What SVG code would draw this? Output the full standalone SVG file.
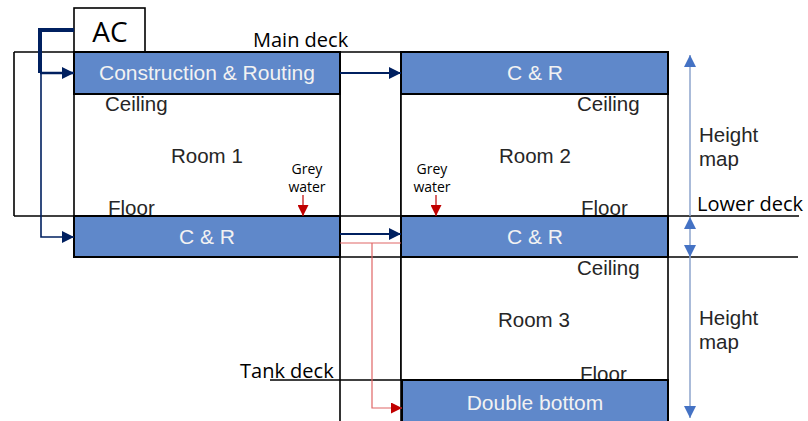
<svg xmlns="http://www.w3.org/2000/svg" width="808" height="421" viewBox="0 0 808 421">
<defs>
<style>
.ln{stroke:#000;stroke-width:1.6;fill:none}
.box{fill:#5F88CA;stroke:#000;stroke-width:2}
.room{fill:#fff;stroke:#000;stroke-width:1.6}
.wt{font-family:"Liberation Sans",Arial,sans-serif;font-size:21px;fill:#F2F2F2;text-anchor:middle}
.gt{font-family:"Liberation Sans",Arial,sans-serif;font-size:20.5px;fill:#262626}
.bt{font-family:"Open Sans","Noto Sans",sans-serif;font-size:20px;fill:#000}
.sm{font-family:"Open Sans","Noto Sans",sans-serif;font-size:14px;fill:#000;text-anchor:middle}
.nav{stroke:#002060;fill:none}
.red{stroke:#E06666;stroke-width:1.2;fill:none}
.hm{stroke:#8EA4CC;stroke-width:1.5;fill:none}
</style>
<marker id="an" viewBox="0 0 10 10" refX="10" refY="5" markerWidth="12" markerHeight="12" markerUnits="userSpaceOnUse" orient="auto"><path d="M0,0L10,5L0,10z" fill="#002060"/></marker>
<marker id="ar" viewBox="0 0 10 10" refX="10" refY="5" markerWidth="11" markerHeight="11" markerUnits="userSpaceOnUse" orient="auto"><path d="M0,0L10,5L0,10z" fill="#C00000"/></marker>
<marker id="ab" viewBox="0 0 10 10" refX="10" refY="5" markerWidth="12" markerHeight="12" markerUnits="userSpaceOnUse" orient="auto-start-reverse"><path d="M0,0L10,5L0,10z" fill="#4472C4"/></marker>
</defs>

<g id="structure">
<line class="ln" x1="14" y1="52" x2="668" y2="52"/>
<line class="ln" x1="14" y1="52" x2="14" y2="216"/>
<line class="ln" x1="14" y1="216" x2="799" y2="216"/>
<line class="ln" x1="74" y1="257" x2="798" y2="257"/>
<line class="ln" x1="340" y1="52" x2="340" y2="421"/>
<line class="ln" x1="401" y1="52" x2="401" y2="421"/>
<line class="ln" x1="270" y1="380" x2="401" y2="380"/>
</g>

<g id="ac">
<rect x="74" y="8" width="71" height="44" fill="#fff" stroke="#000" stroke-width="1.6"/>
<text x="110" y="42" font-family="Open Sans,Noto Sans,sans-serif" font-size="28" text-anchor="middle" fill="#000">AC</text>
</g>

<g id="room1">
<rect class="room" x="74" y="94" width="266" height="122"/>
<text class="gt" x="105" y="111">Ceiling</text>
<text class="gt" x="171" y="163">Room 1</text>
<text class="gt" x="108" y="215">Floor</text>
<text class="sm" x="307" y="174">Grey</text>
<text class="sm" x="307" y="192">water</text>
</g>

<g id="room2">
<rect class="room" x="401" y="94" width="267" height="122"/>
<text class="gt" x="577" y="111">Ceiling</text>
<text class="gt" x="499" y="163">Room 2</text>
<text class="gt" x="581" y="215">Floor</text>
<text class="sm" x="432" y="174">Grey</text>
<text class="sm" x="432" y="192">water</text>
</g>

<g id="room3">
<rect class="room" x="401" y="257" width="267" height="123"/>
<text class="gt" x="577" y="275">Ceiling</text>
<text class="gt" x="498" y="327">Room 3</text>
<text class="gt" x="580" y="381">Floor</text>
</g>

<g id="cr-main">
<rect class="box" x="74" y="52" width="266" height="42"/>
<text class="wt" x="207" y="80">Construction &amp; Routing</text>
</g>
<g id="cr-top-right">
<rect class="box" x="401" y="52" width="267" height="42"/>
<text class="wt" x="535" y="80">C &amp; R</text>
</g>
<g id="cr-lower-left">
<rect class="box" x="74" y="216" width="266" height="41"/>
<text class="wt" x="207" y="244">C &amp; R</text>
</g>
<g id="cr-lower-right">
<rect class="box" x="401" y="216" width="267" height="41"/>
<text class="wt" x="535" y="244">C &amp; R</text>
</g>
<g id="double-bottom">
<rect class="box" x="402" y="380" width="266" height="45"/>
<text class="wt" x="535" y="410">Double bottom</text>
</g>

<g id="labels">
<text class="bt" x="253" y="47">Main deck</text>
<text class="bt" x="697" y="211">Lower deck</text>
<text class="bt" x="240" y="378">Tank deck</text>
<text class="gt" x="699" y="142" fill="#404040" font-size="20">Height</text>
<text class="gt" x="699" y="166" fill="#404040" font-size="20">map</text>
<text class="gt" x="699" y="325" fill="#404040" font-size="20">Height</text>
<text class="gt" x="699" y="349" fill="#404040" font-size="20">map</text>
</g>

<g id="connectors">
<path class="nav" stroke-width="4" d="M74,30H40V73"/>
<path class="nav" stroke-width="2.5" d="M40,73H74" marker-end="url(#an)"/>
<path class="nav" stroke-width="1.6" d="M41,73V237H74" marker-end="url(#an)"/>
<path class="nav" stroke-width="2" d="M340,73H401" marker-end="url(#an)"/>
<path class="nav" stroke-width="2" d="M340,234H401" marker-end="url(#an)"/>
<path class="red" d="M340,243H401"/>
<path class="red" d="M372,243V408H402" marker-end="url(#ar)"/>
<path stroke="#C00000" stroke-width="1.2" d="M303,195V216" marker-end="url(#ar)"/>
<path stroke="#C00000" stroke-width="1.2" d="M436,195V216" marker-end="url(#ar)"/>
<path class="hm" d="M690,216V55" marker-end="url(#ab)"/>
<path class="hm" d="M690,217V257" marker-start="url(#ab)" marker-end="url(#ab)"/>
<path class="hm" d="M690,257V418" marker-end="url(#ab)"/>
</g>
</svg>
